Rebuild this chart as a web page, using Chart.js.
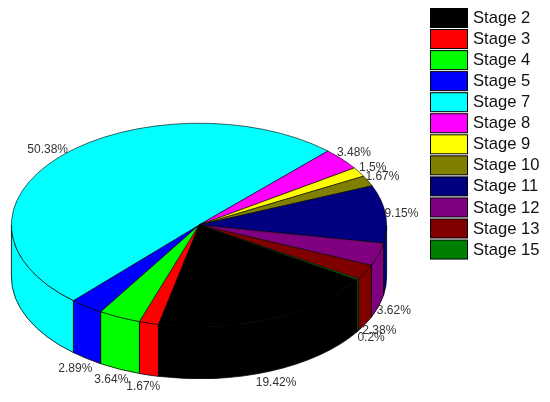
<!DOCTYPE html>
<html>
<head>
<meta charset="utf-8">
<title>Stage pie</title>
<script src="https://cdn.jsdelivr.net/npm/chart.js@4"></script>
<style>
  html, body { margin: 0; padding: 0; background: #fff; }
  canvas { display: block; }
</style>
</head>
<body>
<canvas id="pie" width="550" height="402"></canvas>
<script>
const stages = ["Stage 2", "Stage 3", "Stage 4", "Stage 5", "Stage 7", "Stage 8", "Stage 9", "Stage 10", "Stage 11", "Stage 12", "Stage 13", "Stage 15"];
const percents = [19.42, 1.67, 3.64, 2.89, 50.38, 3.48, 1.5, 1.67, 9.15, 3.62, 2.38, 0.2];
const colors = ["#000000", "#ff0000", "#00ff00", "#0000ff", "#00ffff", "#ff00ff", "#ffff00", "#808000", "#000080", "#800080", "#800000", "#008000"];

// tilt of the pie
const centerX = 199;
const centerY = 225;
const squash = 0.5426;
const depth = 52;

const TWO_PI = Math.PI * 2;

// moves the round pie into an ellipse and draws the side wall under it
const tiltPlugin = {
    id: "tilt",
    beforeDatasetsDraw(chart) {
        const ctx = chart.ctx;
        const arcs = chart.getDatasetMeta(0).data;

        arcs.forEach((arc, i) => {
            const r = arc.outerRadius;
            let start = arc.startAngle % TWO_PI;
            if (start < 0) start += TWO_PI;
            const end = start + (arc.endAngle - arc.startAngle);

            // only the front half of the rim can be seen
            [0, TWO_PI].forEach(turn => {
                const from = Math.max(start, turn);
                const to = Math.min(end, turn + Math.PI);
                if (to <= from) return;
                ctx.beginPath();
                ctx.ellipse(centerX, centerY, r, r * squash, 0, from, to);
                ctx.ellipse(centerX, centerY + depth, r, r * squash, 0, to, from, true);
                ctx.closePath();
                ctx.fillStyle = colors[i];
                ctx.fill();
                ctx.lineWidth = 0.8;
                ctx.strokeStyle = "#000";
                ctx.stroke();
            });
        });

        const first = arcs[0];
        ctx.save();
        ctx.translate(centerX, centerY);
        ctx.scale(1, squash);
        ctx.translate(-first.x, -first.y);
    },
    afterDatasetsDraw(chart) {
        const ctx = chart.ctx;
        ctx.restore();

        // percent labels around the rim
        ctx.font = "12px 'Liberation Sans', Arial, sans-serif";
        ctx.fillStyle = "#333";
        ctx.textAlign = "center";
        ctx.textBaseline = "middle";
        chart.getDatasetMeta(0).data.forEach((arc, i) => {
            const mid = (arc.startAngle + arc.endAngle) / 2;
            const cos = Math.cos(mid);
            const sin = Math.sin(mid);
            const x = centerX + arc.outerRadius * cos + 17 * cos - 1;
            const y = centerY + arc.outerRadius * squash * sin + (sin > 0 ? depth : 0) + 11 * sin + 1;
            ctx.fillText(percents[i] + "%", x, y);
        });

        // legend on the right
        ctx.font = "16.6px 'Liberation Sans', Arial, sans-serif";
        ctx.textAlign = "left";
        stages.forEach((name, i) => {
            const y = 8.5 + i * 21.05;
            ctx.fillStyle = colors[i];
            ctx.fillRect(430.5, y, 37, 19);
            ctx.lineWidth = 1;
            ctx.strokeStyle = "#000";
            ctx.strokeRect(430.5, y, 37, 19);
            ctx.fillStyle = "#111";
            ctx.fillText(name, 473, y + 10);
        });
    }
};

new Chart(document.getElementById("pie"), {
    type: "pie",
    data: {
        labels: stages,
        datasets: [{
            data: percents,
            backgroundColor: colors,
            borderColor: "#000",
            borderWidth: 0.8
        }]
    },
    options: {
        responsive: false,
        animation: false,
        rotation: 122.6,
        layout: { padding: { left: 11, right: 163, top: 13, bottom: 13 } },
        plugins: {
            legend: { display: false },
            tooltip: { enabled: false }
        }
    },
    plugins: [tiltPlugin]
});
</script>
</body>
</html>
